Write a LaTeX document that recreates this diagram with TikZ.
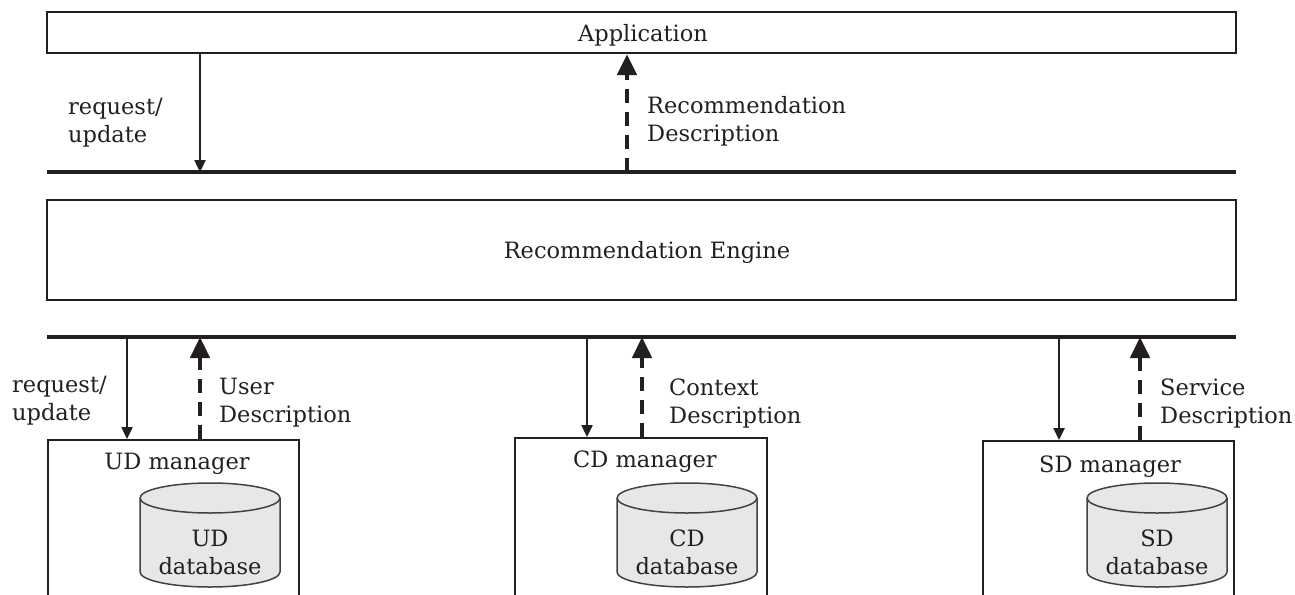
\documentclass[tikz,border=0pt]{standalone}
\usepackage{fontspec}
\setmainfont{DejaVu Serif}
\usetikzlibrary{arrows.meta}
\definecolor{ink}{HTML}{231F20}
\definecolor{dbfill}{HTML}{E6E7E8}
\newcommand{\dbcylinder}[3]{%
  \draw[dbline] ({#1-70},498) -- ({#1-70},572)
     arc[start angle=180,end angle=0,x radius=70,y radius=15]
     -- ({#1+70},498)
     arc[start angle=0,end angle=-180,x radius=70,y radius=15] -- cycle;
  \draw[dbline,fill=none] ({#1-70},498) arc[start angle=180,end angle=0,x radius=70,y radius=15];
  \node[dbtext] (#2) at (#1,552) {#3};
}
\begin{document}
\begin{tikzpicture}[x=1pt,y=-1pt,
  every node/.style={font=\fontsize{22.5}{28}\selectfont, inner sep=0pt, text=ink},
  box/.style={draw=ink, line width=2.2pt},
  bus/.style={draw=ink, line width=4pt},
  req/.style={draw=ink, line width=2.4pt, -{Triangle[length=12pt,width=11pt]}},
  resp/.style={draw=ink, line width=4.7pt, dash pattern=on 14pt off 9pt, -{Triangle[length=21pt,width=19pt]}},
  lbl/.style={align=left, anchor=west},
  dbline/.style={draw=ink!85, line width=1.5pt, fill=dbfill},
  dbtext/.style={align=center},
]
\useasboundingbox (0,0) rectangle (1295,594);
\clip (0,0) rectangle (1295,594);

% top layer
\node[box, minimum width=1189pt, minimum height=41pt] (app) at (641.5,32.5) {};
\node (apptxt) at (643,35) {Application};
\coordinate (b1w) at (47,172);
\coordinate (b1e) at (1236,172);
\draw[bus] (b1w) -- (b1e);
\draw[req] (app.south -| 200,0) -- (b1w -| 200,0);
\draw[resp] (b1w -| 627,0) -- (app.south -| 627,0);
\node[lbl] (l1) at (68,123) {request/\\update};
\node[lbl] (l2) at (647,121) {Recommendation\\Description};

% engine
\node[box, minimum width=1189pt, minimum height=100pt] (eng) at (641.5,250) {};
\node (engtxt) at (647,252.5) {Recommendation Engine};

\coordinate (b2w) at (47,337);
\coordinate (b2e) at (1236,337);
\draw[bus] (b2w) -- (b2e);

% managers
\node[box, minimum width=251pt, minimum height=220pt, anchor=north] (ud) at (173.5,439) {};
\node[box, minimum width=252pt, minimum height=220pt, anchor=north] (cd) at (641,437) {};
\node[box, minimum width=251pt, minimum height=220pt, anchor=north] (sd) at (1108.5,440) {};
\node (udl) at (177,464) {UD manager};
\node (cdl) at (645,462) {CD manager};
\node (sdl) at (1110,467) {SD manager};

\draw[req] (b2w -| 127,0) -- (ud.north -| 127,0);
\draw[resp] (ud.north -| 200,0) -- (b2w -| 200,0);
\draw[req] (b2w -| 587,0) -- (cd.north -| 587,0);
\draw[resp] (cd.north -| 642,0) -- (b2w -| 642,0);
\draw[req] (b2w -| 1059,0) -- (sd.north -| 1059,0);
\draw[resp] (sd.north -| 1140,0) -- (b2w -| 1140,0);

\node[lbl] (l3) at (12,401) {request/\\update};
\node[lbl] (l4) at (219,403) {User\\Description};
\node[lbl] (l5) at (669,403) {Context\\Description};
\node[lbl] (l6) at (1160,403) {Service\\Description};

\dbcylinder{210}{uddb}{UD\\database}
\dbcylinder{687}{cddb}{CD\\database}
\dbcylinder{1157}{sddb}{SD\\database}
\end{tikzpicture}
\end{document}
